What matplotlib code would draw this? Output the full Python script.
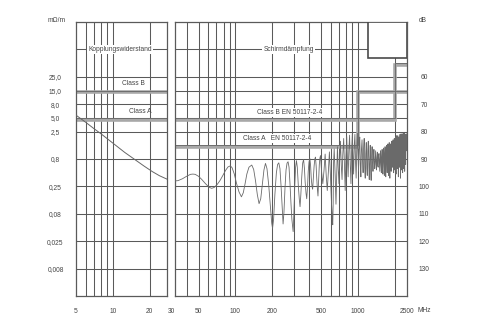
import matplotlib
matplotlib.use("Agg")
from matplotlib import pyplot as plt
from matplotlib.patches import Rectangle

plt.rcParams['font.family'] = ['Liberation Sans', 'DejaVu Sans']

# coupling resistance part, drawn on the dB scale (5 .. ~28 MHz)
freq_left = [5, 6, 7, 8, 10, 12.5, 15, 18, 21, 24, 27.5]
att_left = [74.0, 76.6, 78.9, 80.8, 84.2, 87.6, 90.1, 92.6, 94.6, 96.1, 97.3]

# screening attenuation part (~32 .. 2500 MHz)
freq_right = [32.15, 34, 37, 40, 43, 45, 47, 50, 53, 57, 61, 64, 67, 71, 75, 79, 83, 87,
              91, 94, 98, 102, 107, 112, 116, 120, 124, 129, 136, 141, 146, 151, 156,
              161, 166, 171, 176, 181, 187, 193, 198, 201, 205, 210, 216, 221, 226, 231,
              236, 241, 245, 249, 254, 259, 264, 269, 274, 279, 284, 289, 296, 300, 305,
              310, 315, 320, 326, 332, 337, 342, 348, 354, 360, 366, 371, 377, 382, 388,
              393, 399, 405, 411, 416, 422, 427, 433, 439, 445, 450, 456, 461, 467, 472,
              478, 484, 490, 495, 506, 517, 529, 540, 551, 562, 574, 585, 596,
              607, 618, 623, 628, 632, 640, 652, 662, 672, 680, 690, 700, 710, 720,
              731, 742, 752, 765, 776, 787, 798, 810, 821, 832, 843, 855, 866, 877,
              888, 900, 911, 922, 933, 945, 956, 967, 978, 990, 1001, 1012, 1024,
              1035, 1046, 1057, 1068, 1080, 1091, 1102, 1113, 1125, 1136, 1147, 1158,
              1170, 1181, 1192, 1203, 1215, 1226, 1237, 1248, 1260, 1271, 1282, 1293,
              1305, 1316, 1327, 1338, 1350, 1361, 1372, 1383, 1395, 1406, 1417, 1428,
              1440, 1451, 1462, 1473, 1485, 1496, 1507, 1518, 1530, 1541, 1552, 1563,
              1575, 1586, 1597, 1608, 1620, 1631, 1642, 1653, 1665, 1676, 1687, 1698,
              1710, 1721, 1732, 1743, 1755, 1766, 1777, 1788, 1800, 1811, 1822, 1833,
              1845, 1856, 1867, 1878, 1890, 1901, 1912, 1923, 1935, 1946, 1957, 1968,
              1980, 1991, 2002, 2013, 2025, 2036, 2047, 2058, 2070, 2081, 2092, 2103,
              2115, 2126, 2137, 2148, 2160, 2171, 2182, 2193, 2205, 2216, 2227, 2238,
              2250, 2261, 2272, 2283, 2295, 2306, 2317, 2328, 2340, 2351, 2362, 2373,
              2385, 2396, 2407, 2418, 2430, 2441, 2452, 2463, 2475, 2486, 2500]
att_right = [98.0, 97.9, 97.2, 96.3, 95.6, 95.5, 95.6, 96.3, 97.4, 99.0, 100.3, 100.7,
             100.4, 99.3, 97.8, 96.0, 94.2, 92.9, 92.5, 93.2, 95.5, 98.8, 102.0, 103.8,
             102.3, 99.0, 95.5, 93.0, 92.2, 93.8, 98.0, 103.0, 106.3, 104.5, 99.0, 94.0,
             91.6, 93.5, 99.5, 107.0, 113.5, 115.3, 112.0, 103.0, 95.0, 92.0, 91.4,
             93.5, 100.0, 108.0, 113.7, 109.5, 100.5, 94.0, 91.5, 91.0, 93.0, 99.0,
             106.0, 112.0, 116.5, 110.0, 100.0, 93.0, 90.6, 93.0, 99.5, 104.5, 107.4,
             103.0, 96.5, 91.5, 90.2, 93.5, 98.5, 102.5, 104.5, 100.0, 94.5, 91.0, 89.8,
             92.5, 97.0, 100.0, 101.0, 97.0, 92.5, 90.0, 89.3, 92.5, 97.0, 101.0, 103.5,
             98.0, 92.0, 89.5, 88.8, 95.0, 99.0, 94.0, 88.2, 96.0, 101.5, 94.5, 87.4, 95.5,
             105.0, 112.0, 114.0, 106.0, 92.0, 86.3, 96.0, 106.5, 95.0, 85.5, 93.0,
             99.0, 90.0, 83.5, 92.0, 97.5, 88.5, 82.5, 91.5, 101.5, 89.0, 81.8, 90.0,
             96.5, 86.5, 81.3, 92.0, 99.0, 87.0, 80.8, 89.5, 95.5, 85.0, 81.0, 91.0,
             97.0, 86.0, 80.6, 89.0, 94.5, 84.0, 82.0, 92.0, 96.5, 86.5, 83.0, 90.5,
             95.0, 86.0, 82.5, 93.0, 97.0, 88.0, 84.0, 93.5, 96.0, 87.0, 83.5, 92.0,
             97.5, 90.0, 85.0, 94.0, 97.8, 89.0, 85.5, 91.0, 94.5, 89.5, 86.5, 91.5,
             93.5, 90.0, 87.0, 92.0, 94.0, 89.5, 87.5, 92.5, 93.0, 89.0, 88.0, 91.5,
             94.5, 90.0, 87.0, 92.0, 95.0, 89.5, 86.5, 93.0, 95.5, 88.5, 86.0, 92.0,
             96.0, 89.0, 85.5, 93.5, 96.5, 88.5, 85.0, 91.0, 95.0, 88.0, 84.5, 92.0,
             96.0, 87.5, 84.0, 92.5, 97.0, 89.0, 84.5, 91.0, 94.5, 87.0, 83.5, 90.0,
             93.0, 86.0, 83.0, 90.0, 95.0, 86.5, 82.5, 89.0, 94.0, 85.0, 82.0, 90.5,
             95.5, 86.0, 81.5, 89.0, 93.5, 85.0, 81.5, 90.0, 96.5, 87.0, 82.0, 88.0,
             93.0, 84.0, 81.0, 90.0, 97.0, 86.0, 80.8, 88.0, 94.0, 84.5, 81.0, 89.5,
             95.0, 85.0, 80.5, 88.5, 93.5, 84.0, 80.6, 89.0, 94.5, 85.0, 81.0, 88.0,
             92.0, 84.0, 80.8, 87.0, 84.0]

# limit lines
classB_left = 65
classA_left = 75
classB_en_f = [32.15, 2000, 2000, 2500]
classB_en_db = [75, 75, 55, 55]
classA_en_f = [32.15, 1000, 1000, 2500]
classA_en_db = [85, 85, 65, 65]

grid_db = [50, 60, 65, 70, 75, 80, 90, 100, 110, 120, 130]
grid_left_mhz = [6, 7, 8, 9, 10, 20]
grid_right_mhz = [40, 50, 60, 70, 80, 90, 100, 200, 300, 400, 500, 600, 700, 800,
                  900, 1000, 2000]

ohm_ticks = [60, 65, 70, 75, 80, 90, 100, 110, 120, 130]
ohm_labels = ['25,0', '15,0', '8,0', '5,0', '2,5', '0,8', '0,25', '0,08', '0,025', '0,008']
db_ticks = [60, 70, 80, 90, 100, 110, 120, 130]
mhz_ticks = [5, 10, 20, 30, 50, 100, 200, 500, 1000, 2500]

gcol = '#5a5a5a'
tcol = '#444444'
fs = 4.8

fig = plt.figure(figsize=(5, 3.33), dpi=100)
bot, hgt = 0.1111, 0.8228
ax_full = fig.add_axes([0.152, bot, 0.6614, hgt], frameon=False)
axl = fig.add_axes([0.152, bot, 0.1814, hgt])
axr = fig.add_axes([0.35, bot, 0.4634, hgt])

ax_full.set_xscale('log')
ax_full.set_xlim(5, 2500)
ax_full.set_yticks([])
ax_full.set_xticks(mhz_ticks)
ax_full.set_xticklabels([str(t) for t in mhz_ticks])
ax_full.minorticks_off()
ax_full.tick_params(axis='x', length=0, pad=8.6, labelsize=fs, labelcolor=tcol)

for ax, lo, hi, vgrid in [(axl, 5, 27.5, grid_left_mhz), (axr, 32.15, 2500, grid_right_mhz)]:
    ax.set_xscale('log')
    ax.set_xlim(lo, hi)
    ax.set_ylim(140, 40)
    ax.set_xticks([])
    ax.minorticks_off()
    for sp in ax.spines.values():
        sp.set_color(gcol)
        sp.set_linewidth(0.9)
    for g in grid_db:
        ax.axhline(g, color=gcol, lw=0.75, zorder=1)
    for v in vgrid:
        ax.axvline(v, color=gcol, lw=0.75, zorder=1)

# left labels (mOhm/m)
axl.set_yticks(ohm_ticks)
axl.set_yticklabels(ohm_labels)
axl.tick_params(axis='y', length=0, pad=14.8, labelsize=fs, labelcolor=tcol)
for lab in axl.get_yticklabels():
    lab.set_horizontalalignment('center')

# right labels (dB)
axr.yaxis.tick_right()
axr.set_yticks(db_ticks)
axr.set_yticklabels([str(t) for t in db_ticks])
axr.tick_params(axis='y', length=0, pad=12.5, labelsize=fs, labelcolor=tcol)
for lab in axr.get_yticklabels():
    lab.set_horizontalalignment('center')

# limit bands
band = dict(color='#a8a8a8', lw=2.6, zorder=2, solid_joinstyle='miter')
edge = dict(color='#6e6e6e', lw=0.7, zorder=2.1)
axl.axhline(classB_left + 0.6, **band)
axl.axhline(classB_left, **edge)
axl.axhline(classA_left + 0.6, **band)
axl.axhline(classA_left, **edge)
axr.plot(classB_en_f, [d + 0.6 for d in classB_en_db], **band)
axr.plot(classB_en_f, classB_en_db, **edge)
axr.plot(classA_en_f, [d + 0.6 for d in classA_en_db], **band)
axr.plot(classA_en_f, classA_en_db, **edge)

# measured curve
axl.plot(freq_left, att_left, color='#666666', lw=0.7, zorder=3)
axr.plot(freq_right, att_right, color='#6a6a6a', lw=0.6, zorder=3)

# empty box top right
axr.add_patch(Rectangle((1210, 40), 2500 - 1210, 13.3, facecolor='white',
                        edgecolor='#4a4a4a', lw=1.2, zorder=5))

wbox = dict(facecolor='white', edgecolor='none', pad=0.8)
axl.text(11.4, 50, 'Kopplungswiderstand', ha='center', va='center', fontsize=fs,
         color=tcol, bbox=wbox, zorder=6)
axr.text(272, 50, 'Schirmdämpfung', ha='center', va='center', fontsize=fs,
         color=tcol, bbox=wbox, zorder=6)
axl.text(14.6, 62.6, 'Class B', ha='center', va='center', fontsize=fs, color=tcol, zorder=6)
axl.text(16.6, 72.7, 'Class A', ha='center', va='center', fontsize=fs, color=tcol, zorder=6)
axr.text(279, 73.1, 'Class B EN 50117-2-4', ha='center', va='center', fontsize=fs,
         color=tcol, bbox=wbox, zorder=6)
axr.text(219, 82.4, 'Class A   EN 50117-2-4', ha='center', va='center', fontsize=fs,
         color=tcol, bbox=wbox, zorder=6)

fig.text(56.7 / 500, 1 - 20 / 333, 'mΩ/m', ha='center', va='center', fontsize=fs, color=tcol)
fig.text(423 / 500, 1 - 21 / 333, 'dB', ha='center', va='center', fontsize=fs, color=tcol)
fig.text(424 / 500, 1 - 310 / 333, 'MHz', ha='center', va='center', fontsize=fs, color=tcol)

plt.savefig('out.png', dpi=100, facecolor='white')
